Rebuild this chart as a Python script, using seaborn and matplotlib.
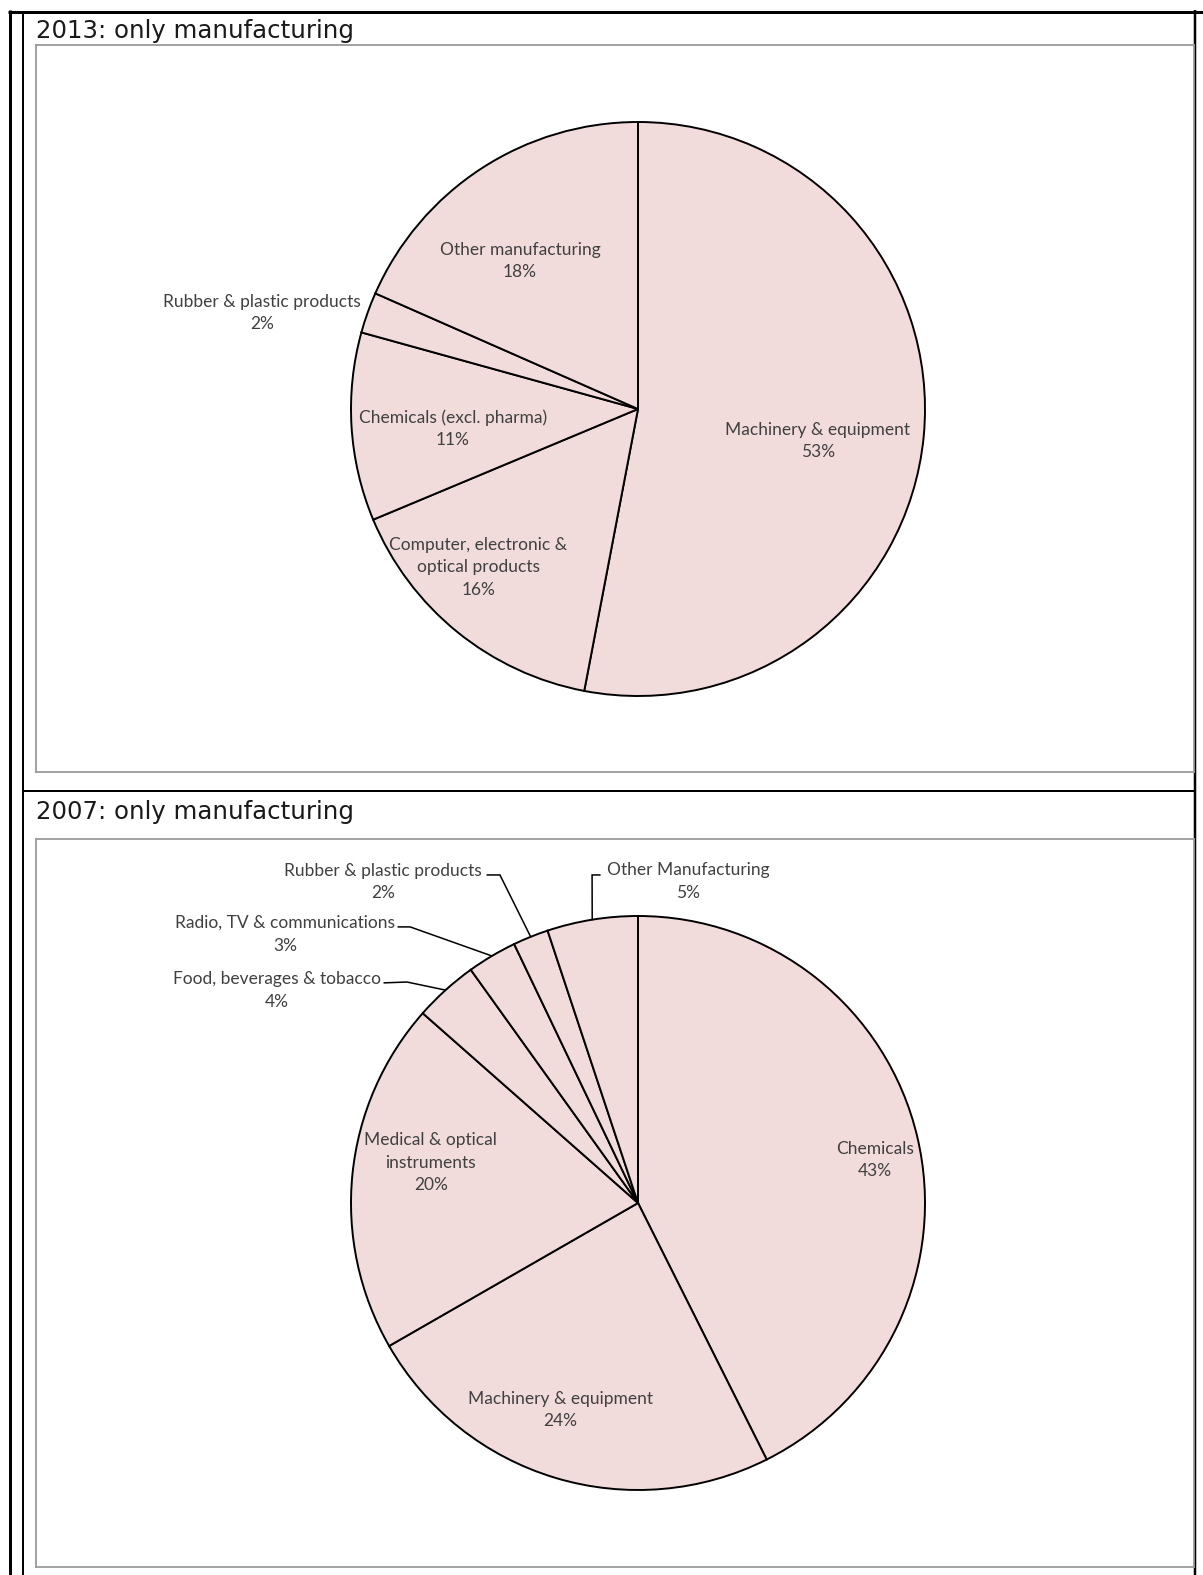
import matplotlib
matplotlib.use("Agg")
import matplotlib.pyplot as plt
import seaborn as sns
import numpy as np

sns.set_theme(style="white")
plt.rcParams["font.family"] = ["Lato", "DejaVu Sans"]

# ---------------- data ----------------
titles = ["2013: only manufacturing", "2007: only manufacturing"]

cats_2013 = ["Machinery & equipment",
             "Computer, electronic &\noptical products",
             "Chemicals (excl. pharma)",
             "Rubber & plastic products",
             "Other manufacturing"]
vals_2013 = [53.0, 15.7, 10.6, 2.3, 18.4]

cats_2007 = ["Chemicals",
             "Machinery & equipment",
             "Medical & optical\ninstruments",
             "Food, beverages & tobacco",
             "Radio, TV & communications",
             "Rubber & plastic products",
             "Other Manufacturing"]
vals_2007 = [42.6, 24.1, 19.8, 3.6, 2.8, 2.0, 5.1]

# ---------------- layout (pixels / radius units) ----------------
W, H = 1203, 1575
R = 287
FILL = "#F2DCDB"
TXT = "#404040"
LABEL_SIZE = 12.5

lab_2013 = [(0.627, -0.111), (-0.557, -0.551), (-0.645, -0.068),
            (-1.310, 0.334), (-0.411, 0.516)]
lab_2007 = [(0.825, 0.15), (-0.270, -0.721), (-0.722, 0.14),
            (-1.258, 0.740), (-1.230, 0.936), (-0.889, 1.118), (0.174, 1.120)]
# leader lines: elbow point then end point near the label (radius units)
lead_2007 = {3: [(-0.805, 0.770), (-0.885, 0.767)],
             4: [(-0.794, 0.962), (-0.836, 0.962)],
             5: [(-0.481, 1.143), (-0.526, 1.143)],
             6: [(-0.160, 1.143), (-0.132, 1.143)]}

fig = plt.figure(figsize=(W / 100, H / 100), dpi=100)
bg = fig.add_axes([0, 0, 1, 1])
bg.set_xlim(0, W)
bg.set_ylim(H, 0)
bg.axis("off")

px = 0.72
k = dict(color="black", solid_capstyle="butt")
bg.plot([9.5, 9.5], [10, H], lw=3 * px, **k)
bg.plot([23, 23], [11, H], lw=2 * px, **k)
bg.plot([8, W], [11.5, 11.5], lw=3 * px, **k)
bg.plot([1195, 1195], [10, H], lw=2.5 * px, **k)
bg.plot([22, 1196], [791, 791], lw=2 * px, **k)

bg.text(36, 38, titles[0], fontsize=17.6, family="DejaVu Sans",
        color="#1a1a1a", va="baseline", ha="left")
bg.text(36, 819, titles[1], fontsize=17.6, family="DejaVu Sans",
        color="#1a1a1a", va="baseline", ha="left")


def pie_panel(box, cx, cy, cats, vals, labpos, leaders):
    x0, y0, x1, y1 = box
    ax = fig.add_axes([x0 / W, 1 - y1 / H, (x1 - x0) / W, (y1 - y0) / H])
    wedges, _ = ax.pie(vals, startangle=90, counterclock=False, radius=1,
                       colors=[FILL] * len(vals), frame=True,
                       wedgeprops=dict(edgecolor="black", linewidth=1.4))
    ax.set_aspect("auto")
    ax.set_xlim((x0 - cx) / R, (x1 - cx) / R)
    ax.set_ylim((cy - y1) / R, (cy - y0) / R)
    ax.set_xticks([])
    ax.set_yticks([])
    for s in ax.spines.values():
        s.set_color("#9a9a9a")
        s.set_linewidth(1.3)
    for i, (c, v, w) in enumerate(zip(cats, vals, wedges)):
        lx, ly = labpos[i]
        ax.text(lx, ly, f"{c}\n{round(v):.0f}%", ha="center", va="center",
                multialignment="center", fontsize=LABEL_SIZE, color=TXT,
                linespacing=1.5)
        if i in leaders:
            mid = np.deg2rad((w.theta1 + w.theta2) / 2)
            ex, ey = np.cos(mid), np.sin(mid)
            pts = [(ex, ey)] + leaders[i]
            ax.plot([p[0] for p in pts], [p[1] for p in pts], color="black",
                    lw=1.1, solid_joinstyle="miter")
    return ax


pie_panel((36, 45, 1194, 772), 638, 409, cats_2013, vals_2013, lab_2013, {})
pie_panel((36, 839, 1194, 1567), 638, 1203, cats_2007, vals_2007, lab_2007,
          lead_2007)

fig.savefig("out.png", dpi=100)
